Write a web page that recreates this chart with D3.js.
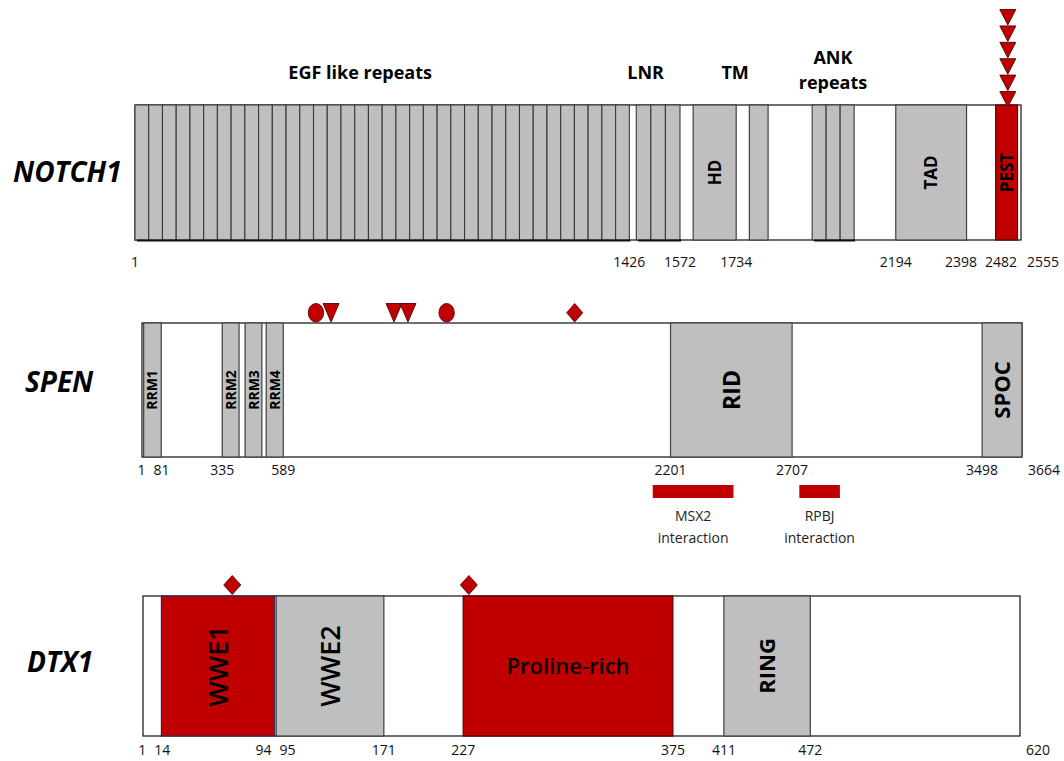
<!DOCTYPE html>
<html>
<head>
<meta charset="utf-8">
<script src="https://cdn.jsdelivr.net/npm/d3@7"></script>
<style>
  body { margin: 0; background: #fff; }
  svg { display: block; }
  text { font-family: "Open Sans", "Noto Sans", sans-serif; }
</style>
</head>
<body>
<svg id="chart" width="1064" height="761"></svg>
<script>
// ---------- data: residue coordinates ----------
const proteinNames = ["NOTCH1", "SPEN", "DTX1"];
const proteinLengths = [2555, 3664, 620];

// NOTCH1 repeated motifs (region, number of repeats)
const notch1Repeats = [
  { name: "EGF", start: 1, end: 1426, count: 36 },
  { name: "LNR", start: 1446, end: 1572, count: 3 },
  { name: "ANK", start: 1953, end: 2074, count: 3 }
];
const notch1Domains = [
  { name: "HD", start: 1610, end: 1734 },
  { name: "", start: 1772, end: 1826 },
  { name: "TAD", start: 2194, end: 2398 },
  { name: "PEST", start: 2482, end: 2545 }
];
const notch1Headings = [
  { lines: ["EGF like repeats"], at: 650 },
  { lines: ["LNR"], at: 1473 },
  { lines: ["TM"], at: 1731 },
  { lines: ["ANK", "repeats"], at: 2013 }
];
const notch1Ticks = [1, 1426, 1572, 1734, 2194, 2398, 2482, 2555];
const notch1Mutations = [
  { pos: 2517, shape: "triangle" },
  { pos: 2517, shape: "triangle" },
  { pos: 2517, shape: "triangle" },
  { pos: 2517, shape: "triangle" },
  { pos: 2517, shape: "triangle" },
  { pos: 2517, shape: "triangle" }
];

// SPEN
const spenDomains = [
  { name: "RRM1", start: 8, end: 81 },
  { name: "RRM2", start: 335, end: 405 },
  { name: "RRM3", start: 430, end: 500 },
  { name: "RRM4", start: 518, end: 589 },
  { name: "RID", start: 2201, end: 2707 },
  { name: "SPOC", start: 3498, end: 3664 }
];
const spenTicks = [1, 81, 335, 589, 2201, 2707, 3498, 3664];
const spenMutations = [
  { pos: 725, shape: "circle" },
  { pos: 788, shape: "triangle" },
  { pos: 1050, shape: "triangle" },
  { pos: 1108, shape: "triangle" },
  { pos: 1269, shape: "circle" },
  { pos: 1802, shape: "diamond" }
];
const spenInteractions = [
  { partner: "MSX2", start: 2127, end: 2463 },
  { partner: "RPBJ", start: 2737, end: 2906 }
];

// DTX1
const dtx1Domains = [
  { name: "WWE1", start: 14, end: 94 },
  { name: "WWE2", start: 95, end: 171 },
  { name: "Proline-rich", start: 227, end: 375 },
  { name: "RING", start: 411, end: 472 }
];
const dtx1Ticks = [1, 14, 94, 95, 171, 227, 375, 411, 472, 620];
const dtx1Mutations = [
  { pos: 64, shape: "diamond" },
  { pos: 231, shape: "diamond" }
];

// domains shown in red
const highlightedDomains = ["PEST", "WWE1", "Proline-rich"];

// ---------- styles ----------
const RED = "#c00000", RED_EDGE = "#5a0000";
const GREY = "#bfbfbf", GREY_EDGE = "#404040";

const labelStyle = {
  HD: { size: 17, weight: 700, rotate: true },
  TAD: { size: 17, weight: 700, rotate: true },
  PEST: { size: 17, weight: 700, rotate: true },
  RRM1: { size: 14, weight: 700, rotate: true },
  RRM2: { size: 14, weight: 700, rotate: true },
  RRM3: { size: 14, weight: 700, rotate: true },
  RRM4: { size: 14, weight: 700, rotate: true },
  RID: { size: 23, weight: 700, rotate: true },
  SPOC: { size: 22, weight: 700, rotate: true },
  WWE1: { size: 27, weight: 600, rotate: true },
  WWE2: { size: 27, weight: 600, rotate: true },
  "Proline-rich": { size: 22, weight: 600, rotate: false },
  RING: { size: 22, weight: 700, rotate: true }
};

const layout = {
  NOTCH1: { x0: 135, x1: 1021, top: 105, bottom: 240, tickY: 267, nameX: 13, nameY: 182,
            marker: { w: 16, h: 15.5, gap: -2, step: 16.4 } },
  SPEN:   { x0: 142, x1: 1022, top: 323, bottom: 457, tickY: 475, nameX: 25, nameY: 392,
            marker: { w: 16, h: 18.5, gap: 1, step: 19 } },
  DTX1:   { x0: 143, x1: 1020, top: 596, bottom: 736, tickY: 755, nameX: 27, nameY: 672,
            marker: { w: 17, h: 19, gap: 1.5, step: 20 } }
};

const svg = d3.select("#chart");
svg.append("rect").attr("width", 1064).attr("height", 761).attr("fill", "#fff");

function markerPath(shape, w, h) {
  const p = d3.path();
  if (shape === "triangle") {
    p.moveTo(-w / 2, -h); p.lineTo(w / 2, -h); p.lineTo(0, 0); p.closePath();
  } else if (shape === "diamond") {
    p.moveTo(0, -h); p.lineTo(w / 2, -h / 2); p.lineTo(0, 0); p.lineTo(-w / 2, -h / 2); p.closePath();
  }
  return p.toString();
}

function drawProtein(name, length, spec) {
  const L = layout[name];
  const x = d3.scaleLinear().domain([1, length]).range([L.x0, L.x1]);
  const g = svg.append("g").attr("class", "protein " + name);
  const h = L.bottom - L.top;

  // protein name
  g.append("text")
    .attr("x", L.nameX).attr("y", L.nameY)
    .attr("font-size", 28).attr("font-weight", 700).attr("font-style", "italic")
    .attr("fill", "#000")
    .text(name);

  // backbone
  g.append("rect")
    .attr("x", x(1)).attr("y", L.top)
    .attr("width", x(length) - x(1)).attr("height", h)
    .attr("fill", "#fff").attr("stroke", "#222").attr("stroke-width", 1.3);

  // repeated motifs
  (spec.repeats || []).forEach(r => {
    const edges = d3.range(r.count + 1).map(i => r.start + (r.end - r.start) * i / r.count);
    g.append("g").selectAll("rect").data(d3.pairs(edges)).join("rect")
      .attr("x", d => x(d[0])).attr("y", L.top)
      .attr("width", d => x(d[1]) - x(d[0])).attr("height", h)
      .attr("fill", GREY).attr("stroke", "#3a3a3a").attr("stroke-width", 1.1);
    g.append("line")
      .attr("x1", x(r.start) + 2).attr("x2", x(r.end) + 1)
      .attr("y1", L.bottom + 0.5).attr("y2", L.bottom + 0.5)
      .attr("stroke", "#111").attr("stroke-width", 2);
  });

  // domains
  const dom = g.append("g").selectAll("g").data(spec.domains).join("g");
  dom.append("rect")
    .attr("x", d => x(d.start)).attr("y", L.top)
    .attr("width", d => x(d.end) - x(d.start)).attr("height", h)
    .attr("fill", d => highlightedDomains.includes(d.name) ? RED : GREY)
    .attr("stroke", d => highlightedDomains.includes(d.name) ? (d.name === "WWE1" ? "#2a2a5a" : RED_EDGE) : GREY_EDGE)
    .attr("stroke-width", 1.2);
  dom.filter(d => d.name).append("text")
    .each(function (d) {
      const s = labelStyle[d.name];
      const cx = (x(d.start) + x(d.end)) / 2, cy = (L.top + L.bottom) / 2;
      d3.select(this)
        .attr("text-anchor", "middle")
        .attr("dy", "0.36em")
        .attr("font-size", s.size).attr("font-weight", s.weight)
        .attr("fill", "#000")
        .attr("transform", s.rotate ? `translate(${cx},${cy}) rotate(-90)` : `translate(${cx},${cy})`)
        .text(d.name);
    });

  // headings above the backbone
  (spec.headings || []).forEach(hd => {
    const t = g.append("text")
      .attr("text-anchor", "middle")
      .attr("font-size", 18).attr("font-weight", 700).attr("fill", "#000");
    const n = hd.lines.length;
    hd.lines.forEach((line, i) => {
      t.append("tspan")
        .attr("x", x(hd.at))
        .attr("y", 79 - (n - 1 - i) * 25 + (n > 1 ? 10 : 0))
        .text(line);
    });
  });

  // residue labels under the backbone
  const ticks = spec.ticks;
  const tl = g.append("g").selectAll("text").data(ticks).join("text")
    .attr("y", L.tickY)
    .attr("font-size", 14).attr("fill", "#111")
    .attr("text-anchor", "middle")
    .text(d => d);
  const widths = tl.nodes().map(n => n.getComputedTextLength());
  const centers = ticks.map((d, i) => i === ticks.length - 1 ? x(d) + 6 + widths[i] / 2 : x(d));
  for (let it = 0; it < 30; it++) {
    for (let i = 0; i < centers.length - 1; i++) {
      const need = (widths[i] + widths[i + 1]) / 2 + 8;
      const gap = centers[i + 1] - centers[i];
      if (gap < need) {
        const push = (need - gap) / 2;
        centers[i] -= push;
        centers[i + 1] += push;
      }
    }
  }
  tl.attr("x", (d, i) => centers[i]);

  // mutation markers, stacked when they share a position
  const M = L.marker;
  const seen = new Map();
  const placed = spec.mutations.map(m => {
    const k = seen.get(m.pos) || 0;
    seen.set(m.pos, k + 1);
    return { ...m, level: k };
  });
  const mk = g.append("g").selectAll("g").data(placed).join("g")
    .attr("transform", d => `translate(${x(d.pos)},${L.top - M.gap - d.level * M.step})`);
  mk.filter(d => d.shape === "circle").append("ellipse")
    .attr("cx", 0).attr("cy", -M.h / 2).attr("rx", M.w / 2 - 0.3).attr("ry", M.h / 2)
    .attr("fill", RED).attr("stroke", RED_EDGE).attr("stroke-width", 0.9);
  mk.filter(d => d.shape !== "circle").append("path")
    .attr("d", d => markerPath(d.shape, M.w, M.h))
    .attr("fill", RED).attr("stroke", RED_EDGE).attr("stroke-width", 0.9);

  // interaction regions below the backbone
  (spec.interactions || []).forEach(r => {
    g.append("rect")
      .attr("x", x(r.start)).attr("y", L.bottom + 28)
      .attr("width", x(r.end) - x(r.start)).attr("height", 13)
      .attr("fill", RED);
    const t = g.append("text")
      .attr("text-anchor", "middle").attr("font-size", 14).attr("fill", "#222");
    t.append("tspan").attr("x", (x(r.start) + x(r.end)) / 2).attr("y", L.bottom + 64).text(r.partner);
    t.append("tspan").attr("x", (x(r.start) + x(r.end)) / 2).attr("y", L.bottom + 86).text("interaction");
  });
}

drawProtein(proteinNames[0], proteinLengths[0], {
  repeats: notch1Repeats, domains: notch1Domains, headings: notch1Headings,
  ticks: notch1Ticks, mutations: notch1Mutations
});
drawProtein(proteinNames[1], proteinLengths[1], {
  domains: spenDomains, ticks: spenTicks, mutations: spenMutations, interactions: spenInteractions
});
drawProtein(proteinNames[2], proteinLengths[2], {
  domains: dtx1Domains, ticks: dtx1Ticks, mutations: dtx1Mutations
});
</script>
</body>
</html>
